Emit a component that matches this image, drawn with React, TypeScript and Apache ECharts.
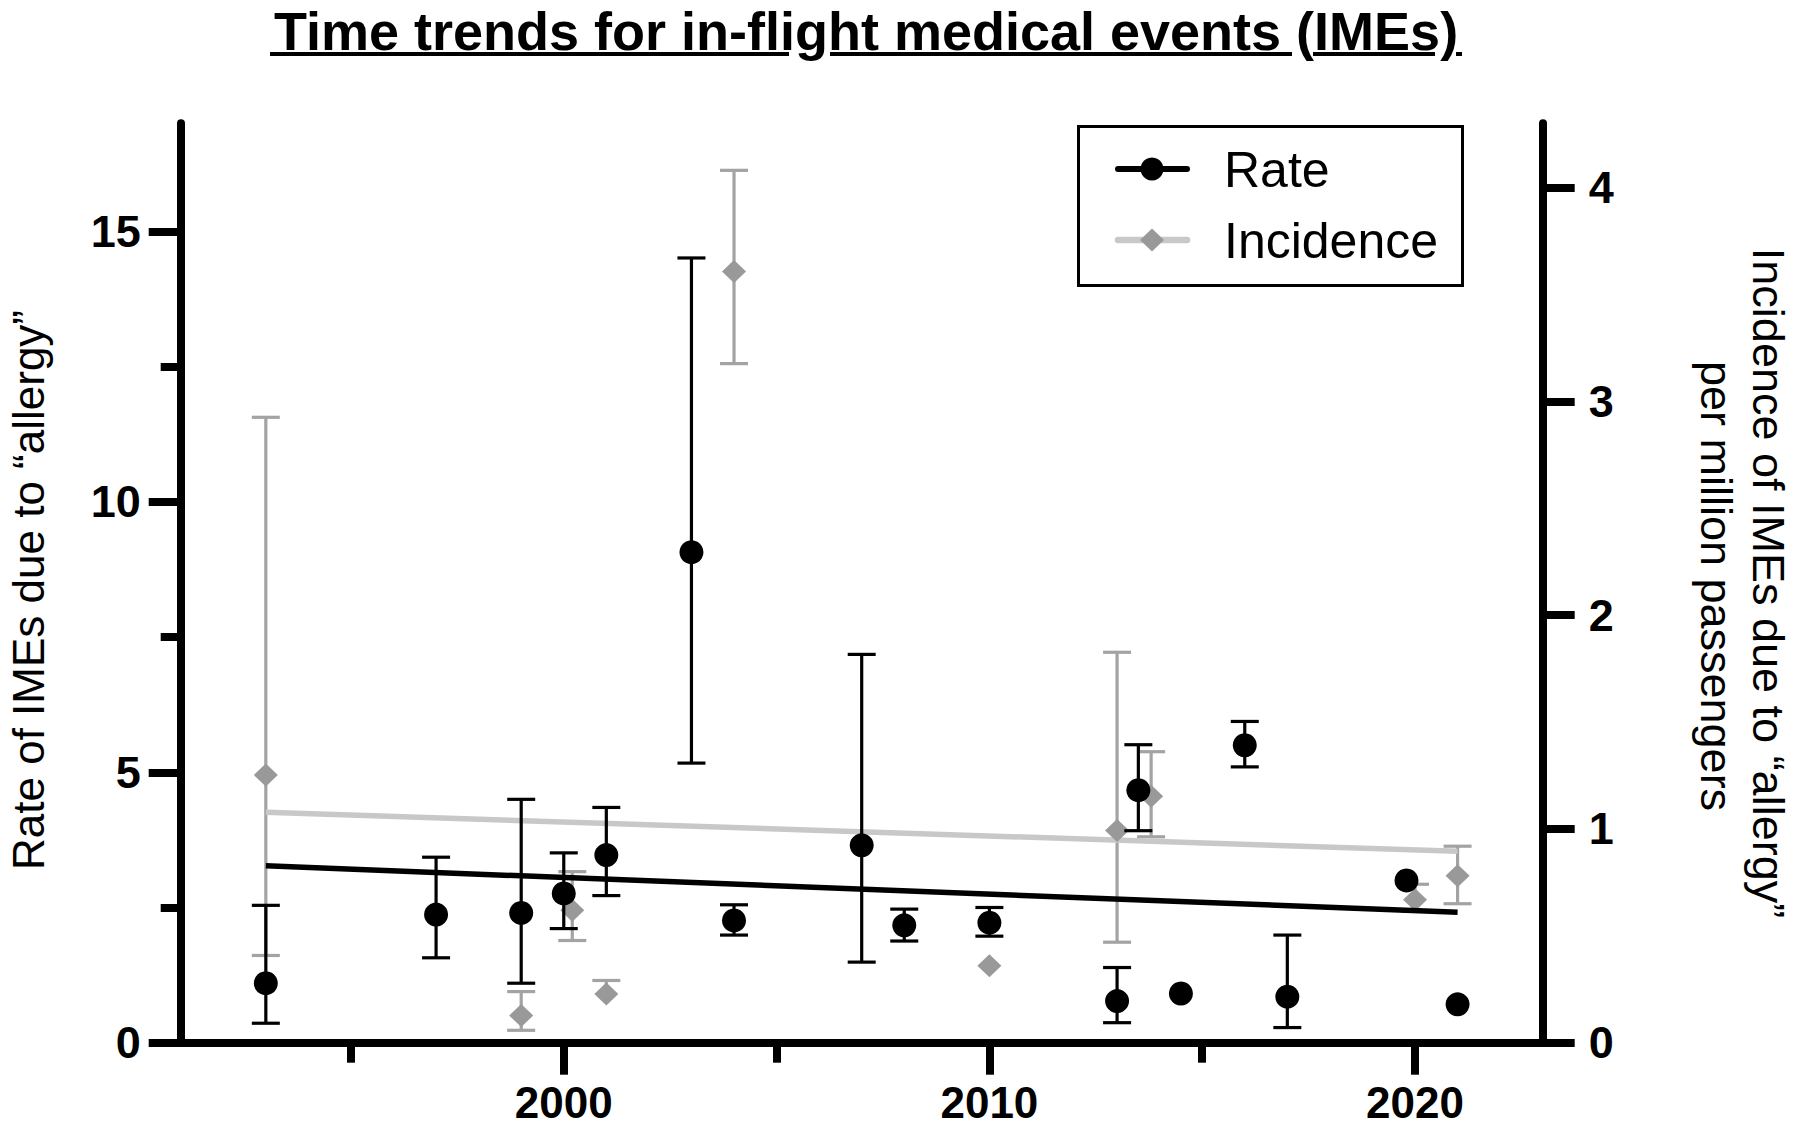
import React, { useEffect, useRef } from "react";
import * as echarts from "echarts";

const rateYears = [1993, 1997, 1999, 2000, 2001, 2003, 2004, 2007, 2008, 2010, 2013, 2013.5, 2014.5, 2016, 2017, 2019.8, 2021];
const rateValues = [1.1, 2.37, 2.4, 2.76, 3.47, 9.07, 2.26, 3.65, 2.17, 2.22, 0.77, 4.67, 0.91, 5.5, 0.85, 3.0, 0.71];
const rateLow = [0.36, 1.57, 1.1, 2.11, 2.72, 5.17, 1.99, 1.49, 1.88, 1.97, 0.37, 3.92, null, 5.1, 0.28, null, null];
const rateHigh = [2.54, 3.43, 4.5, 3.51, 4.35, 14.51, 2.55, 7.18, 2.47, 2.5, 1.39, 5.51, null, 5.94, 1.99, null, null];

const incYears = [1993, 1999, 2000.2, 2001, 2004, 2010, 2013, 2013.8, 2020, 2021];
const incValues = [1.252, 0.127, 0.619, 0.228, 3.607, 0.36, 0.993, 1.153, 0.669, 0.781];
const incLow = [0.408, 0.058, 0.478, null, 3.176, null, 0.47, 0.963, 0.614, 0.65];
const incHigh = [2.925, 0.239, 0.8, 0.291, 4.08, null, 1.826, 1.361, 0.741, 0.919];

const trendYears = [1993, 2021];
const rateTrend = [3.27, 2.41];
const incTrend = [1.078, 0.895];

const xMajorTicks = [2000, 2010, 2020];
const xMinorTicks = [1995, 2005, 2015];
const leftMajorTicks = [0, 5, 10, 15];
const leftMinorTicks = [2.5, 7.5, 12.5];
const rightTicks = [0, 1, 2, 3, 4];

const FONT = "'Liberation Sans', Arial, Helvetica, sans-serif";

function errData(xs: number[], vs: number[], lo: (number | null)[], hi: (number | null)[]) {
  const out: number[][] = [];
  xs.forEach((x, i) => {
    if (lo[i] == null && hi[i] == null) return;
    out.push([x, lo[i] ?? vs[i], hi[i] ?? vs[i], lo[i] == null ? 0 : 1, hi[i] == null ? 0 : 1, vs[i]]);
  });
  return out;
}

function makeErrRender(color: string) {
  return (params: any, api: any) => {
    const x = api.value(0);
    const lo = api.value(1);
    const hi = api.value(2);
    const hasLo = api.value(3);
    const hasHi = api.value(4);
    const pLo = api.coord([x, lo]);
    const pHi = api.coord([x, hi]);
    const half = 14;
    const style = { stroke: color, lineWidth: 3.2 };
    const children: any[] = [
      { type: "line", shape: { x1: pLo[0], y1: pLo[1], x2: pHi[0], y2: pHi[1] }, style },
    ];
    if (hasLo) children.push({ type: "line", shape: { x1: pLo[0] - half, y1: pLo[1], x2: pLo[0] + half, y2: pLo[1] }, style });
    if (hasHi) children.push({ type: "line", shape: { x1: pHi[0] - half, y1: pHi[1], x2: pHi[0] + half, y2: pHi[1] }, style });
    return { type: "group", children };
  };
}

const underlineSegments = [[270, 789], [830, 1292], [1313, 1435], [1456, 1462]];

export default function App() {
  const ref = useRef<HTMLDivElement>(null);
  useEffect(() => {
    if (!ref.current) return;
    const chart = echarts.init(ref.current, undefined, { renderer: "svg" });
    const axisLine = { show: true, lineStyle: { color: "#000", width: 8 } };
    const tickLabel = { fontFamily: FONT, fontSize: 45, fontWeight: "bold" as const, color: "#000" };
    const option: any = {
      animation: false,
      backgroundColor: "#fff",
      grid: { left: 180.7, right: 257.3, top: 123.3, bottom: 85.3, containLabel: false },
      xAxis: [
        {
          type: "value", min: 1991, max: 2023, position: "bottom",
          axisLine,
          axisTick: { show: true, customValues: xMajorTicks, length: 32, lineStyle: { color: "#000", width: 8 } },
          axisLabel: { show: true, customValues: xMajorTicks, margin: 38, ...tickLabel, fontSize: 44, lineHeight: 44, formatter: (v: number) => String(v) },
          splitLine: { show: false },
        },
        {
          type: "value", min: 1991, max: 2023, position: "bottom", offset: 0,
          axisLine: { show: false },
          axisTick: { show: true, customValues: xMinorTicks, length: 20, lineStyle: { color: "#000", width: 8 } },
          axisLabel: { show: false },
          splitLine: { show: false },
        },
      ],
      yAxis: [
        {
          type: "value", min: 0, max: 17, position: "left",
          axisLine,
          axisTick: { show: true, customValues: leftMajorTicks, length: 32, lineStyle: { color: "#000", width: 8 } },
          axisLabel: { show: true, customValues: leftMajorTicks, margin: 40, ...tickLabel, formatter: (v: number) => String(v) },
          splitLine: { show: false },
        },
        {
          type: "value", min: 0, max: 17, position: "left", offset: 0,
          axisLine: { show: false },
          axisTick: { show: true, customValues: leftMinorTicks, length: 20, lineStyle: { color: "#000", width: 8 } },
          axisLabel: { show: false },
          splitLine: { show: false },
        },
        {
          type: "value", min: 0, max: 4.3, position: "right", offset: 0,
          axisLine,
          axisTick: { show: true, customValues: rightTicks, length: 32, lineStyle: { color: "#000", width: 8 } },
          axisLabel: { show: true, customValues: rightTicks, margin: 46, ...tickLabel, formatter: (v: number) => String(v) },
          splitLine: { show: false },
        },
      ],
      series: [
        {
          name: "Incidence error", type: "custom", xAxisIndex: 0, yAxisIndex: 2,
          renderItem: makeErrRender("#a3a3a3"),
          encode: { x: 0, y: [1, 2] },
          data: errData(incYears, incValues, incLow, incHigh),
          z: 2,
        },
        {
          name: "Incidence trend", type: "line", xAxisIndex: 0, yAxisIndex: 2,
          data: trendYears.map((x, i) => [x, incTrend[i]]),
          showSymbol: false, symbol: "none",
          lineStyle: { color: "#c8c8c8", width: 5.5 },
          z: 3,
        },
        {
          name: "Incidence", type: "scatter", xAxisIndex: 0, yAxisIndex: 2,
          data: incYears.map((x, i) => [x, incValues[i]]),
          symbol: "diamond", symbolSize: [24, 23],
          itemStyle: { color: "#999999", opacity: 1 },
          z: 4,
        },
        {
          name: "Rate error", type: "custom", xAxisIndex: 0, yAxisIndex: 0,
          renderItem: makeErrRender("#000000"),
          encode: { x: 0, y: [1, 2] },
          data: errData(rateYears, rateValues, rateLow, rateHigh),
          z: 5,
        },
        {
          name: "Rate trend", type: "line", xAxisIndex: 0, yAxisIndex: 0,
          data: trendYears.map((x, i) => [x, rateTrend[i]]),
          showSymbol: false, symbol: "none",
          lineStyle: { color: "#000000", width: 5.5 },
          z: 6,
        },
        {
          name: "Rate", type: "scatter", xAxisIndex: 0, yAxisIndex: 0,
          data: rateYears.map((x, i) => [x, rateValues[i]]),
          symbol: "circle", symbolSize: 24,
          itemStyle: { color: "#000000", opacity: 1 },
          z: 7,
        },
      ],
      graphic: [
        {
          type: "text", x: 866, y: 31, z: 10,
          style: { text: "Time trends for in-flight medical events (IMEs)", fontFamily: FONT, fontSize: 54, lineHeight: 54, fontWeight: "bold", fill: "#000", align: "center", verticalAlign: "middle" },
        },
        ...underlineSegments.map(([a, b]) => ({
          type: "line", z: 10, shape: { x1: a, y1: 54, x2: b, y2: 54 }, style: { stroke: "#000", lineWidth: 4 },
        })),
        {
          type: "text", x: 28, y: 590, rotation: Math.PI / 2, z: 10,
          style: { text: "Rate of IMEs due to “allergy”", fontFamily: FONT, fontSize: 44, fill: "#000", align: "center", verticalAlign: "middle" },
        },
        {
          type: "text", x: 1768, y: 583, rotation: -Math.PI / 2, z: 10,
          style: { text: "Incidence of IMEs due to “allergy”", fontFamily: FONT, fontSize: 45, fill: "#000", align: "center", verticalAlign: "middle" },
        },
        {
          type: "text", x: 1716, y: 586, rotation: -Math.PI / 2, z: 10,
          style: { text: "per million passengers", fontFamily: FONT, fontSize: 45, fill: "#000", align: "center", verticalAlign: "middle" },
        },
        {
          type: "rect", z: 20, shape: { x: 1078.5, y: 126.5, width: 384, height: 159 },
          style: { fill: "#fff", stroke: "#000", lineWidth: 3 },
        },
        { type: "line", z: 21, shape: { x1: 1118, y1: 169, x2: 1187, y2: 169 }, style: { stroke: "#000", lineWidth: 6, lineCap: "round" } },
        { type: "circle", z: 22, shape: { cx: 1152, cy: 169, r: 11.5 }, style: { fill: "#000" } },
        { type: "line", z: 21, shape: { x1: 1118, y1: 240, x2: 1187, y2: 240 }, style: { stroke: "#c8c8c8", lineWidth: 6.5, lineCap: "round" } },
        { type: "polygon", z: 22, shape: { points: [[1152, 228.5], [1164, 240], [1152, 251.5], [1140, 240]] }, style: { fill: "#999999" } },
        {
          type: "text", x: 1224, y: 170, z: 22,
          style: { text: "Rate", fontFamily: FONT, fontSize: 50, fill: "#000", align: "left", verticalAlign: "middle" },
        },
        {
          type: "text", x: 1224, y: 241, z: 22,
          style: { text: "Incidence", fontFamily: FONT, fontSize: 50, fill: "#000", align: "left", verticalAlign: "middle" },
        },
      ],
    };
    chart.setOption(option);
    return () => chart.dispose();
  }, []);
  return <div ref={ref} style={{ position: "fixed", left: 0, top: 0, width: 1800, height: 1128, background: "#fff" }} />;
}
